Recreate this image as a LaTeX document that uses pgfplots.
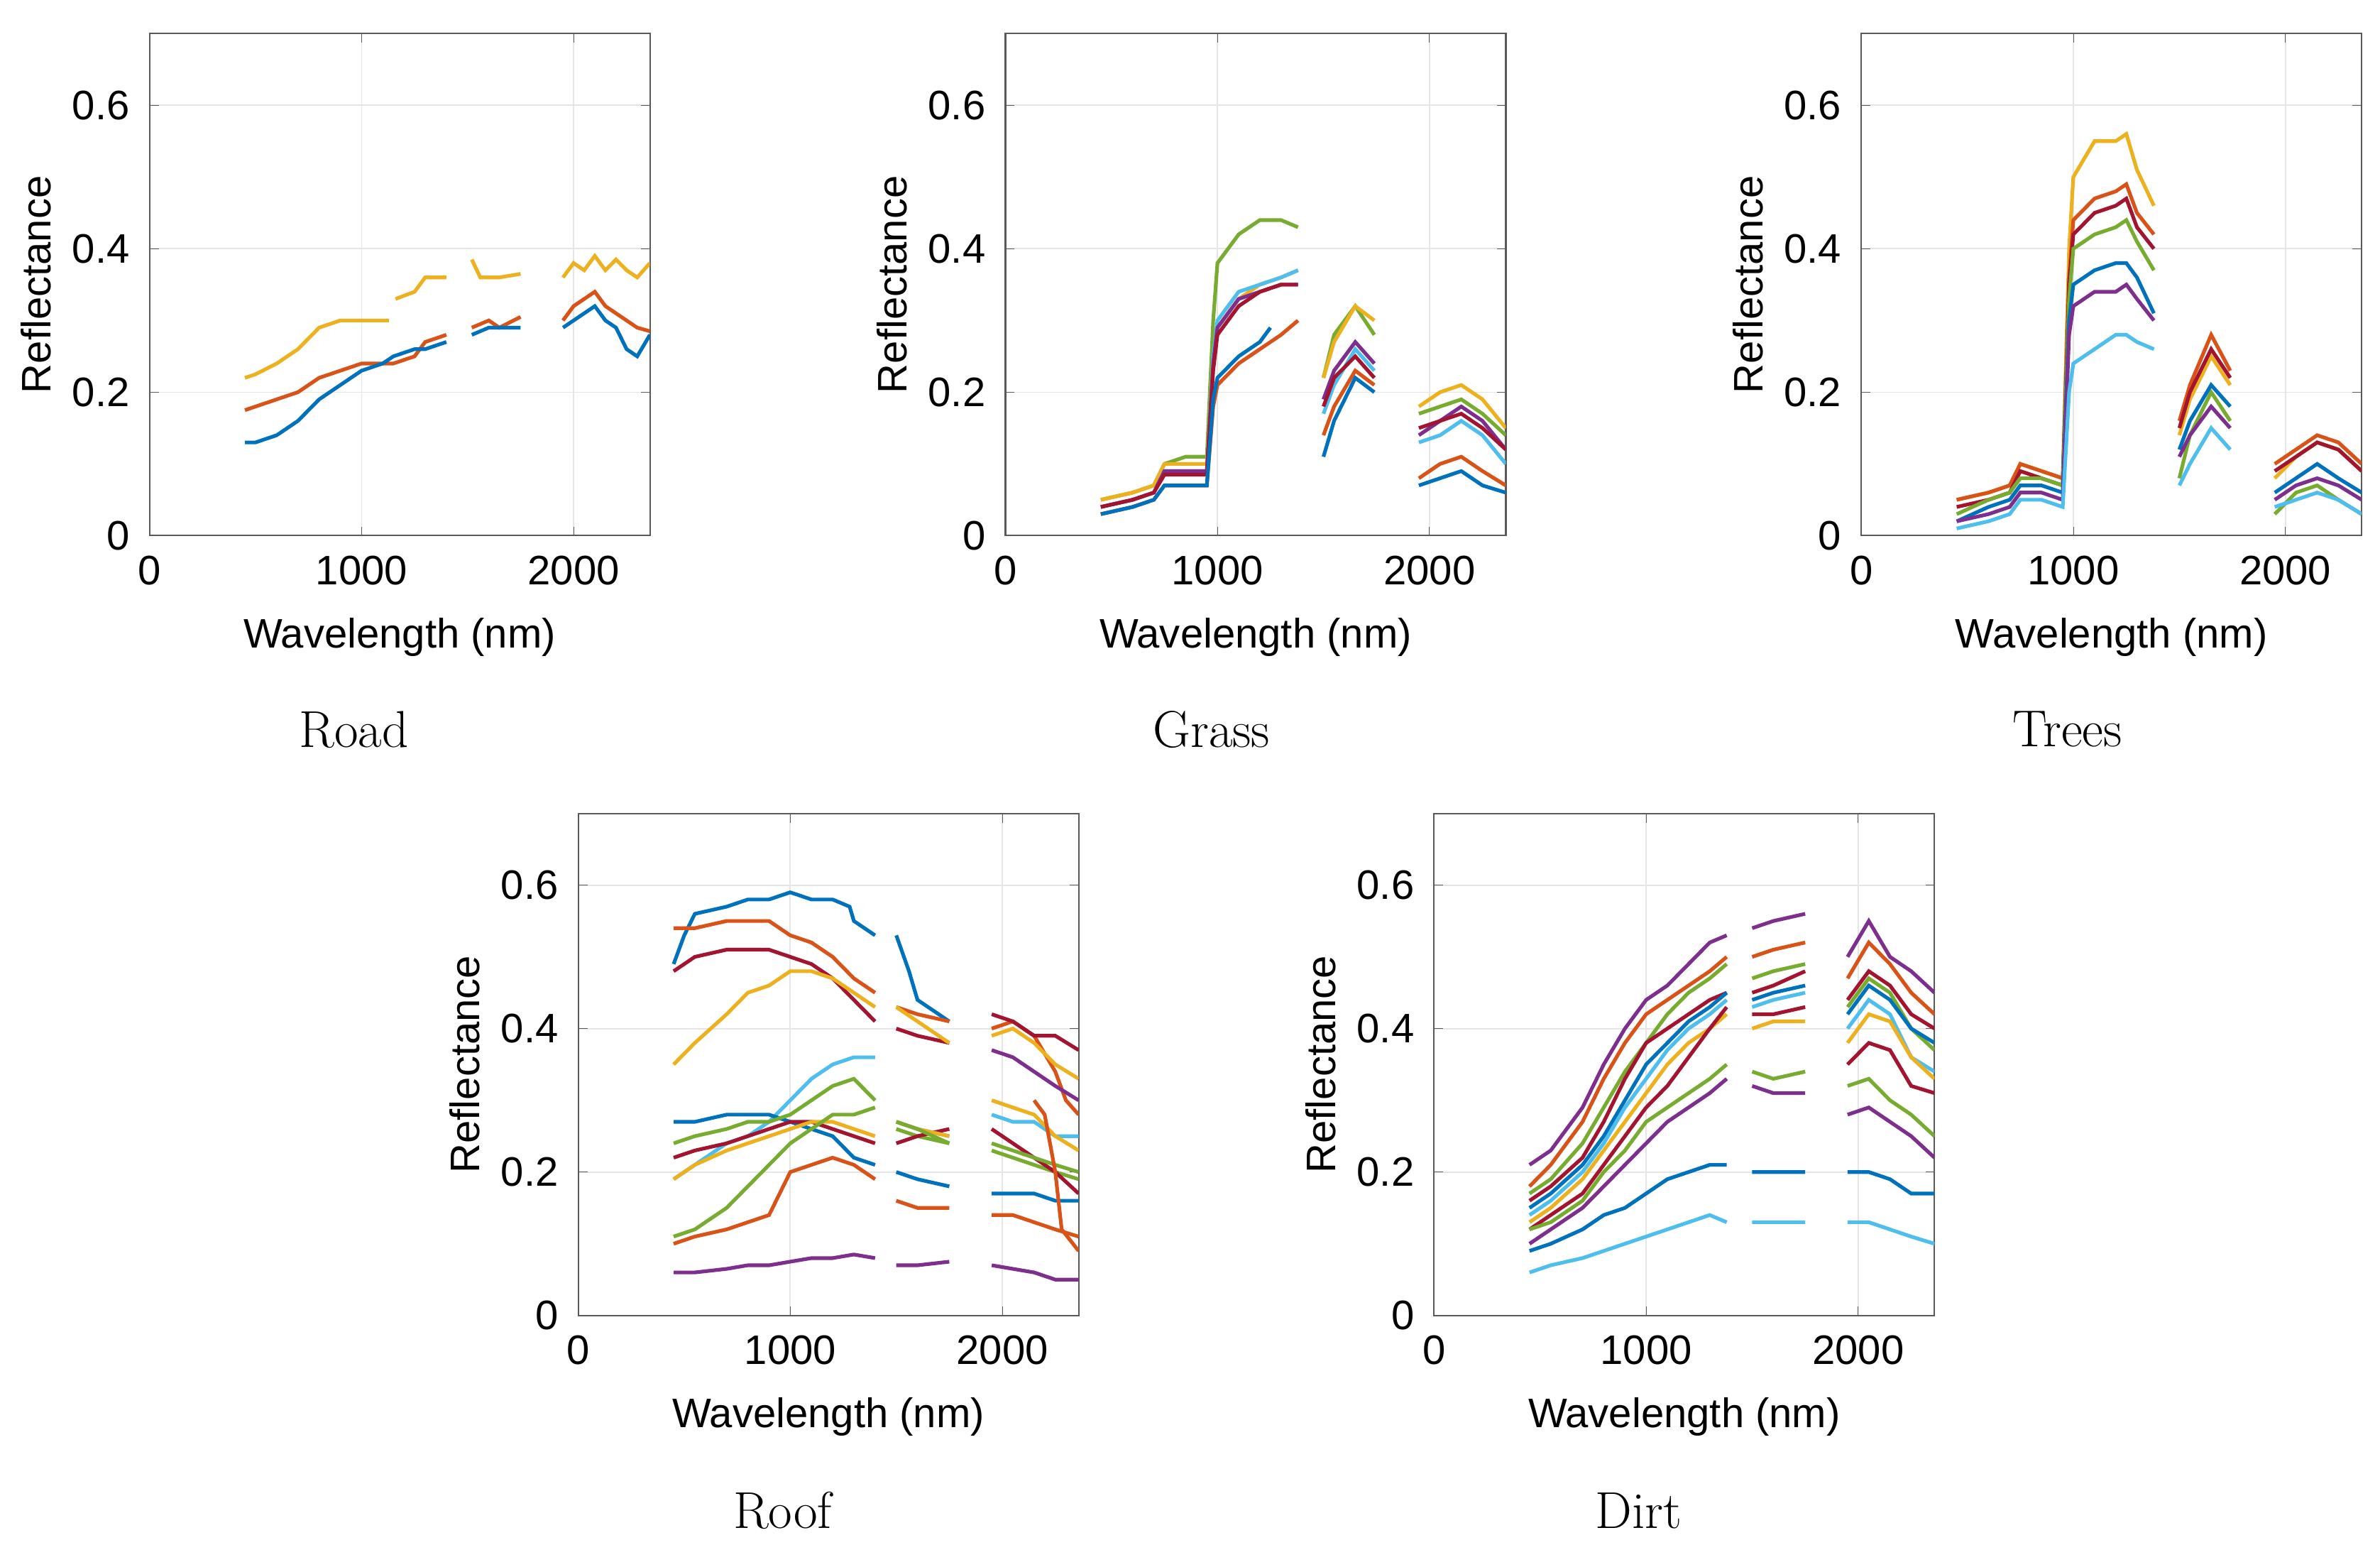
\documentclass[border=0pt]{standalone}
\usepackage{pgfplots}
\pgfplotsset{compat=1.18}
\usepackage{fontspec}
\newfontfamily\axfont{Liberation Sans}
\definecolor{mB}{rgb}{0,0.447,0.741}
\definecolor{mO}{rgb}{0.85,0.325,0.098}
\definecolor{mY}{rgb}{0.929,0.694,0.125}
\definecolor{mP}{rgb}{0.494,0.184,0.556}
\definecolor{mG}{rgb}{0.466,0.674,0.188}
\definecolor{mC}{rgb}{0.301,0.745,0.933}
\definecolor{mR}{rgb}{0.635,0.078,0.184}
\pgfplotsset{spec/.style={scale only axis, width=164pt, height=164.5pt, anchor=south west,
  xmin=0, xmax=2360, ymin=0, ymax=0.7, xtick={0,1000,2000}, ytick={0,0.2,0.4,0.6},
  grid=major, grid style={gray!20}, axis line style={gray!70!black, line width=0.5pt},
  tick style={gray!70!black}, major tick length=3pt,
  tick label style={font=\fontsize{13.5}{15}\axfont}, label style={font=\fontsize{13.5}{15}\axfont},
  /pgf/number format/assume math mode=true, yticklabel style={/pgf/number format/fixed, xshift=-3pt},
  xticklabel style={/pgf/number format/set thousands separator={}, yshift=-3pt},
  xlabel={Wavelength (nm)}, ylabel={Reflectance}, unbounded coords=jump,
  every axis plot/.append style={line width=1.2pt, no markers},
  ylabel style={yshift=0pt}, xlabel style={yshift=-4pt}}}
\begin{document}
\begin{tikzpicture}
\path (0pt,0pt) rectangle (780pt,506pt);
% Road
\begin{axis}[spec, at={(49pt,330.5pt)}]
\addplot[mY] coordinates {(450,.22)(500,.225)(600,.24)(700,.26)(800,.29)(900,.30)(950,.30)(1050,.30)(1130,.30)(1150,nan)(1160,.33)(1250,.34)(1300,.36)(1400,.36)(1420,nan)(1520,.385)(1560,.36)(1650,.36)(1750,.365)(1800,nan)(1950,.36)(2000,.38)(2050,.37)(2100,.39)(2150,.37)(2200,.385)(2250,.37)(2300,.36)(2360,.38)};
\addplot[mO] coordinates {(450,.175)(500,.18)(600,.19)(700,.20)(800,.22)(900,.23)(1000,.24)(1100,.24)(1150,.24)(1250,.25)(1300,.27)(1400,.28)(1420,nan)(1520,.29)(1600,.30)(1650,.29)(1750,.305)(1800,nan)(1950,.30)(2000,.32)(2050,.33)(2100,.34)(2150,.32)(2250,.30)(2300,.29)(2360,.285)};
\addplot[mB] coordinates {(450,.13)(500,.13)(600,.14)(700,.16)(800,.19)(900,.21)(1000,.23)(1100,.24)(1150,.25)(1250,.26)(1300,.26)(1400,.27)(1420,nan)(1520,.28)(1600,.29)(1650,.29)(1750,.29)(1800,nan)(1950,.29)(2000,.30)(2050,.31)(2100,.32)(2150,.30)(2200,.29)(2250,.26)(2300,.25)(2360,.28)};
\end{axis}
\node[font=\fontsize{17}{19}\selectfont] at (116pt,267pt) {Road};
% Grass
\begin{axis}[spec, at={(329.5pt,330.5pt)}]
\addplot[mG] coordinates {(450,.05)(600,.06)(700,.07)(750,.10)(850,.11)(950,.11)(980,.30)(1000,.38)(1100,.42)(1200,.44)(1300,.44)(1380,.43)(1420,nan)(1500,.22)(1550,.28)(1650,.32)(1740,.28)(1800,nan)(1950,.17)(2050,.18)(2150,.19)(2250,.17)(2360,.14)};
\addplot[mY] coordinates {(450,.05)(600,.06)(700,.07)(750,.10)(850,.10)(950,.10)(980,.25)(1000,.29)(1100,.33)(1200,.35)(1300,.36)(1380,.37)(1420,nan)(1500,.22)(1550,.27)(1650,.32)(1740,.30)(1800,nan)(1950,.18)(2050,.20)(2150,.21)(2250,.19)(2360,.15)};
\addplot[mC] coordinates {(450,.04)(600,.05)(700,.06)(750,.09)(850,.09)(950,.09)(980,.25)(1000,.30)(1100,.34)(1200,.35)(1300,.36)(1380,.37)(1420,nan)(1500,.17)(1550,.21)(1650,.26)(1740,.23)(1800,nan)(1950,.13)(2050,.14)(2150,.16)(2250,.14)(2360,.10)};
\addplot[mP] coordinates {(450,.04)(600,.05)(700,.06)(750,.09)(850,.09)(950,.09)(980,.24)(1000,.29)(1100,.33)(1200,.34)(1300,.35)(1380,.35)(1420,nan)(1500,.19)(1550,.23)(1650,.27)(1740,.24)(1800,nan)(1950,.14)(2050,.16)(2150,.18)(2250,.16)(2360,.12)};
\addplot[mR] coordinates {(450,.04)(600,.05)(700,.06)(750,.085)(850,.085)(950,.085)(980,.23)(1000,.28)(1100,.32)(1200,.34)(1300,.35)(1380,.35)(1420,nan)(1500,.18)(1550,.22)(1650,.25)(1740,.22)(1800,nan)(1950,.15)(2050,.16)(2150,.17)(2250,.15)(2360,.12)};
\addplot[mO] coordinates {(450,.03)(600,.04)(700,.05)(750,.07)(850,.07)(950,.07)(980,.18)(1000,.21)(1100,.24)(1200,.26)(1300,.28)(1380,.30)(1420,nan)(1500,.14)(1550,.18)(1650,.23)(1740,.21)(1800,nan)(1950,.08)(2050,.10)(2150,.11)(2250,.09)(2360,.07)};
\addplot[mB] coordinates {(450,.03)(600,.04)(700,.05)(750,.07)(850,.07)(950,.07)(980,.19)(1000,.22)(1100,.25)(1200,.27)(1250,.29)(1300,nan)(1500,.11)(1550,.16)(1650,.22)(1740,.20)(1800,nan)(1950,.07)(2050,.08)(2150,.09)(2250,.07)(2360,.06)};
\end{axis}
\node[font=\fontsize{17}{19}\selectfont] at (397pt,267pt) {Grass};
% Trees
\begin{axis}[spec, at={(610pt,330.5pt)}]
\addplot[mY] coordinates {(450,.05)(600,.06)(700,.07)(750,.10)(850,.09)(950,.08)(980,.40)(1000,.50)(1100,.55)(1200,.55)(1250,.56)(1300,.51)(1380,.46)(1420,nan)(1500,.14)(1550,.19)(1650,.25)(1740,.21)(1800,nan)(1950,.08)(2050,.11)(2150,.13)(2250,.12)(2360,.09)};
\addplot[mO] coordinates {(450,.05)(600,.06)(700,.07)(750,.10)(850,.09)(950,.08)(980,.36)(1000,.44)(1100,.47)(1200,.48)(1250,.49)(1300,.45)(1380,.42)(1420,nan)(1500,.16)(1550,.21)(1650,.28)(1740,.23)(1800,nan)(1950,.10)(2050,.12)(2150,.14)(2250,.13)(2360,.10)};
\addplot[mR] coordinates {(450,.04)(600,.05)(700,.06)(750,.09)(850,.08)(950,.07)(980,.35)(1000,.42)(1100,.45)(1200,.46)(1250,.47)(1300,.43)(1380,.40)(1420,nan)(1500,.15)(1550,.20)(1650,.26)(1740,.22)(1800,nan)(1950,.09)(2050,.11)(2150,.13)(2250,.12)(2360,.09)};
\addplot[mG] coordinates {(450,.03)(600,.05)(700,.06)(750,.08)(850,.08)(950,.07)(980,.33)(1000,.40)(1100,.42)(1200,.43)(1250,.44)(1300,.41)(1380,.37)(1420,nan)(1500,.08)(1550,.14)(1650,.20)(1740,.16)(1800,nan)(1950,.03)(2050,.06)(2150,.07)(2250,.05)(2360,.03)};
\addplot[mB] coordinates {(450,.02)(600,.04)(700,.05)(750,.07)(850,.07)(950,.06)(980,.30)(1000,.35)(1100,.37)(1200,.38)(1250,.38)(1300,.36)(1380,.31)(1420,nan)(1500,.12)(1550,.16)(1650,.21)(1740,.18)(1800,nan)(1950,.06)(2050,.08)(2150,.10)(2250,.08)(2360,.06)};
\addplot[mP] coordinates {(450,.02)(600,.03)(700,.04)(750,.06)(850,.06)(950,.05)(980,.28)(1000,.32)(1100,.34)(1200,.34)(1250,.35)(1300,.33)(1380,.30)(1420,nan)(1500,.11)(1550,.14)(1650,.18)(1740,.15)(1800,nan)(1950,.05)(2050,.07)(2150,.08)(2250,.07)(2360,.05)};
\addplot[mC] coordinates {(450,.01)(600,.02)(700,.03)(750,.05)(850,.05)(950,.04)(980,.20)(1000,.24)(1100,.26)(1200,.28)(1250,.28)(1300,.27)(1380,.26)(1420,nan)(1500,.07)(1550,.10)(1650,.15)(1740,.12)(1800,nan)(1950,.04)(2050,.05)(2150,.06)(2250,.05)(2360,.03)};
\end{axis}
\node[font=\fontsize{17}{19}\selectfont] at (677.5pt,267pt) {Trees};
% Roof
\begin{axis}[spec, at={(189.5pt,75pt)}]
\addplot[mB] coordinates {(450,.49)(500,.53)(550,.56)(700,.57)(800,.58)(900,.58)(1000,.59)(1100,.58)(1200,.58)(1280,.57)(1300,.55)(1400,.53)(1420,nan)(1500,.53)(1560,.48)(1600,.44)(1750,.41)(1800,nan)};
\addplot[mO] coordinates {(450,.54)(550,.54)(700,.55)(800,.55)(900,.55)(1000,.53)(1100,.52)(1200,.50)(1300,.47)(1400,.45)(1420,nan)(1500,.43)(1600,.42)(1750,.41)(1800,nan)(1950,.40)(2050,.41)(2150,.39)(2250,.34)(2300,.30)(2360,.28)};
\addplot[mR] coordinates {(450,.48)(550,.50)(700,.51)(800,.51)(900,.51)(1000,.50)(1100,.49)(1200,.47)(1300,.44)(1400,.41)(1420,nan)(1500,.40)(1600,.39)(1750,.38)(1800,nan)(1950,.42)(2050,.41)(2150,.39)(2250,.39)(2360,.37)};
\addplot[mY] coordinates {(450,.35)(550,.38)(700,.42)(800,.45)(900,.46)(1000,.48)(1100,.48)(1200,.47)(1300,.45)(1400,.43)(1420,nan)(1500,.43)(1600,.41)(1750,.38)(1800,nan)(1950,.39)(2050,.40)(2150,.38)(2250,.35)(2360,.33)};
\addplot[mP] coordinates {(1950,.37)(2050,.36)(2150,.34)(2250,.32)(2360,.30)};
\addplot[mC] coordinates {(450,.19)(550,.21)(700,.24)(800,.25)(900,.27)(1000,.30)(1100,.33)(1200,.35)(1300,.36)(1400,.36)(1420,nan)(1500,.27)(1600,.26)(1750,.25)(1800,nan)(1950,.28)(2050,.27)(2150,.27)(2250,.25)(2360,.25)};
\addplot[mB] coordinates {(450,.27)(550,.27)(700,.28)(800,.28)(900,.28)(1000,.27)(1100,.26)(1200,.25)(1300,.22)(1400,.21)(1420,nan)(1500,.20)(1600,.19)(1750,.18)(1800,nan)(1950,.17)(2050,.17)(2150,.17)(2250,.16)(2360,.16)};
\addplot[mG] coordinates {(450,.24)(550,.25)(700,.26)(800,.27)(900,.27)(1000,.28)(1100,.30)(1200,.32)(1300,.33)(1400,.30)(1420,nan)(1500,.26)(1600,.25)(1750,.24)(1800,nan)(1950,.23)(2050,.22)(2150,.21)(2250,.20)(2360,.19)};
\addplot[mR] coordinates {(450,.22)(550,.23)(700,.24)(800,.25)(900,.26)(1000,.27)(1100,.27)(1200,.26)(1300,.25)(1400,.24)(1420,nan)(1500,.24)(1600,.25)(1750,.26)(1800,nan)(1950,.26)(2050,.24)(2150,.22)(2250,.20)(2360,.17)};
\addplot[mY] coordinates {(450,.19)(550,.21)(700,.23)(800,.24)(900,.25)(1000,.26)(1100,.27)(1200,.27)(1300,.26)(1400,.25)(1420,nan)(1500,.27)(1600,.26)(1750,.25)(1800,nan)(1950,.30)(2050,.29)(2150,.28)(2250,.25)(2360,.23)};
\addplot[mG] coordinates {(450,.11)(550,.12)(700,.15)(800,.18)(900,.21)(1000,.24)(1100,.26)(1200,.28)(1300,.28)(1400,.29)(1420,nan)(1500,.27)(1600,.26)(1750,.24)(1800,nan)(1950,.24)(2050,.23)(2150,.22)(2250,.21)(2360,.20)};
\addplot[mO] coordinates {(450,.10)(550,.11)(700,.12)(800,.13)(900,.14)(1000,.20)(1100,.21)(1200,.22)(1300,.21)(1400,.19)(1420,nan)(1500,.16)(1600,.15)(1750,.15)(1800,nan)(1950,.14)(2050,.14)(2150,.13)(2250,.12)(2360,.11)};
\addplot[mO] coordinates {(2150,.30)(2200,.28)(2250,.20)(2280,.12)(2360,.09)};
\addplot[mP] coordinates {(450,.06)(550,.06)(700,.065)(800,.07)(900,.07)(1000,.075)(1100,.08)(1200,.08)(1300,.085)(1400,.08)(1420,nan)(1500,.07)(1600,.07)(1750,.075)(1800,nan)(1950,.07)(2050,.065)(2150,.06)(2250,.05)(2360,.05)};
\end{axis}
\node[font=\fontsize{17}{19}\selectfont] at (256.5pt,11pt) {Roof};
% Dirt
\begin{axis}[spec, at={(470pt,75pt)}]
\addplot[mP] coordinates {(450,.21)(550,.23)(700,.29)(800,.35)(900,.40)(1000,.44)(1100,.46)(1200,.49)(1300,.52)(1380,.53)(1420,nan)(1500,.54)(1600,.55)(1750,.56)(1800,nan)(1950,.50)(2050,.55)(2150,.50)(2250,.48)(2360,.45)};
\addplot[mO] coordinates {(450,.18)(550,.21)(700,.27)(800,.33)(900,.38)(1000,.42)(1100,.44)(1200,.46)(1300,.48)(1380,.50)(1420,nan)(1500,.50)(1600,.51)(1750,.52)(1800,nan)(1950,.47)(2050,.52)(2150,.49)(2250,.45)(2360,.42)};
\addplot[mG] coordinates {(450,.17)(550,.19)(700,.24)(800,.29)(900,.34)(1000,.38)(1100,.42)(1200,.45)(1300,.47)(1380,.49)(1420,nan)(1500,.47)(1600,.48)(1750,.49)(1800,nan)(1950,.43)(2050,.47)(2150,.45)(2250,.40)(2360,.37)};
\addplot[mR] coordinates {(450,.16)(550,.18)(700,.22)(800,.27)(900,.33)(1000,.38)(1100,.40)(1200,.42)(1300,.44)(1380,.45)(1420,nan)(1500,.45)(1600,.46)(1750,.48)(1800,nan)(1950,.44)(2050,.48)(2150,.46)(2250,.42)(2360,.40)};
\addplot[mB] coordinates {(450,.15)(550,.17)(700,.21)(800,.25)(900,.30)(1000,.35)(1100,.38)(1200,.41)(1300,.43)(1380,.45)(1420,nan)(1500,.44)(1600,.45)(1750,.46)(1800,nan)(1950,.42)(2050,.46)(2150,.44)(2250,.40)(2360,.38)};
\addplot[mC] coordinates {(450,.14)(550,.16)(700,.20)(800,.24)(900,.29)(1000,.33)(1100,.37)(1200,.40)(1300,.42)(1380,.44)(1420,nan)(1500,.43)(1600,.44)(1750,.45)(1800,nan)(1950,.40)(2050,.44)(2150,.42)(2250,.36)(2360,.34)};
\addplot[mY] coordinates {(450,.13)(550,.15)(700,.19)(800,.23)(900,.27)(1000,.31)(1100,.35)(1200,.38)(1300,.40)(1380,.42)(1420,nan)(1500,.40)(1600,.41)(1750,.41)(1800,nan)(1950,.38)(2050,.42)(2150,.41)(2250,.36)(2360,.33)};
\addplot[mR] coordinates {(450,.12)(550,.14)(700,.17)(800,.21)(900,.25)(1000,.29)(1100,.32)(1200,.36)(1300,.40)(1380,.43)(1420,nan)(1500,.42)(1600,.42)(1750,.43)(1800,nan)(1950,.35)(2050,.38)(2150,.37)(2250,.32)(2360,.31)};
\addplot[mG] coordinates {(450,.12)(550,.13)(700,.16)(800,.20)(900,.23)(1000,.27)(1100,.29)(1200,.31)(1300,.33)(1380,.35)(1420,nan)(1500,.34)(1600,.33)(1750,.34)(1800,nan)(1950,.32)(2050,.33)(2150,.30)(2250,.28)(2360,.25)};
\addplot[mP] coordinates {(450,.10)(550,.12)(700,.15)(800,.18)(900,.21)(1000,.24)(1100,.27)(1200,.29)(1300,.31)(1380,.33)(1420,nan)(1500,.32)(1600,.31)(1750,.31)(1800,nan)(1950,.28)(2050,.29)(2150,.27)(2250,.25)(2360,.22)};
\addplot[mB] coordinates {(450,.09)(550,.10)(700,.12)(800,.14)(900,.15)(1000,.17)(1100,.19)(1200,.20)(1300,.21)(1380,.21)(1420,nan)(1500,.20)(1600,.20)(1750,.20)(1800,nan)(1950,.20)(2050,.20)(2150,.19)(2250,.17)(2360,.17)};
\addplot[mC] coordinates {(450,.06)(550,.07)(700,.08)(800,.09)(900,.10)(1000,.11)(1100,.12)(1200,.13)(1300,.14)(1380,.13)(1420,nan)(1500,.13)(1600,.13)(1750,.13)(1800,nan)(1950,.13)(2050,.13)(2150,.12)(2250,.11)(2360,.10)};
\end{axis}
\node[font=\fontsize{17}{19}\selectfont] at (537pt,11pt) {Dirt};
\end{tikzpicture}
\end{document}
